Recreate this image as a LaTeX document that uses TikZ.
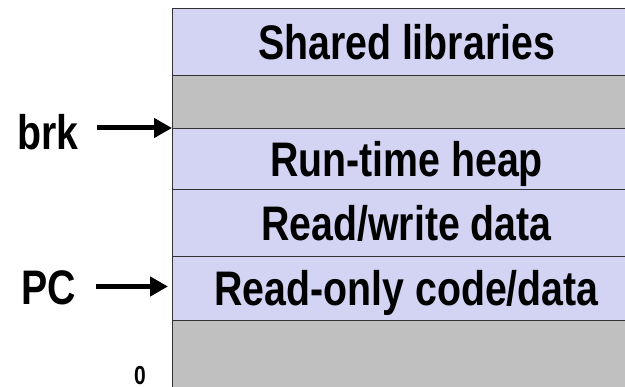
\documentclass[tikz,border=0pt]{standalone}
\usepackage{fontspec}
\newfontfamily\narrowsans{Liberation Sans}[FakeStretch=0.81]
\usetikzlibrary{arrows.meta}
\definecolor{segfill}{RGB}{211,211,243}
\definecolor{gapfill}{RGB}{192,192,192}
\definecolor{segline}{RGB}{50,50,50}
\tikzset{
  segment/.style={draw=segline, line width=1pt, fill=segfill, rectangle,
    minimum width=468pt, inner sep=0pt, anchor=north west,
    text height=35pt, text depth=0pt,
    font=\narrowsans\bfseries\fontsize{48.5}{52}\selectfont},
  gap/.style={segment, fill=gapfill},
  tag/.style={inner sep=0pt, anchor=base west,
    font=\narrowsans\bfseries\fontsize{48.5}{52}\selectfont},
  ptr/.style={line width=5pt, -{Triangle[length=18pt,width=19pt]}}
}
\begin{document}
\begin{tikzpicture}[x=1pt,y=-1pt]
  \useasboundingbox (0,0) rectangle (625,387);
  \clip (0,0) rectangle (625,387);
  % memory segments, top to bottom
  \node[segment, minimum height=67pt] (shared) at (172,8)   {Shared libraries};
  \node[gap,     minimum height=53pt] (free)   at (172,75)  {};
  \node[segment, minimum height=61pt] (heap)   at (172,128) {Run-time heap};
  \node[segment, minimum height=67pt] (rw)     at (172,189) {Read/write data};
  \node[segment, minimum height=64pt] (ro)     at (172,256) {Read-only code/data};
  \node[gap,     minimum height=80pt] (low)    at (172,320) {};
  % pointer labels
  \node[tag] (brk) at (17,150) {brk};
  \node[tag] (pc)  at (21,305) {PC};
  \node[tag, font=\narrowsans\bfseries\fontsize{26}{28}\selectfont] (zero) at (134,385) {0};
  % pointer arrows
  \draw[ptr] ([xshift=18pt]brk.east |- heap.north west) -- (heap.north west);
  \draw[ptr] ([xshift=20pt,yshift=2pt]pc.east |- ro.west) -- ([xshift=-4pt,yshift=2pt]ro.west);
\end{tikzpicture}
\end{document}
